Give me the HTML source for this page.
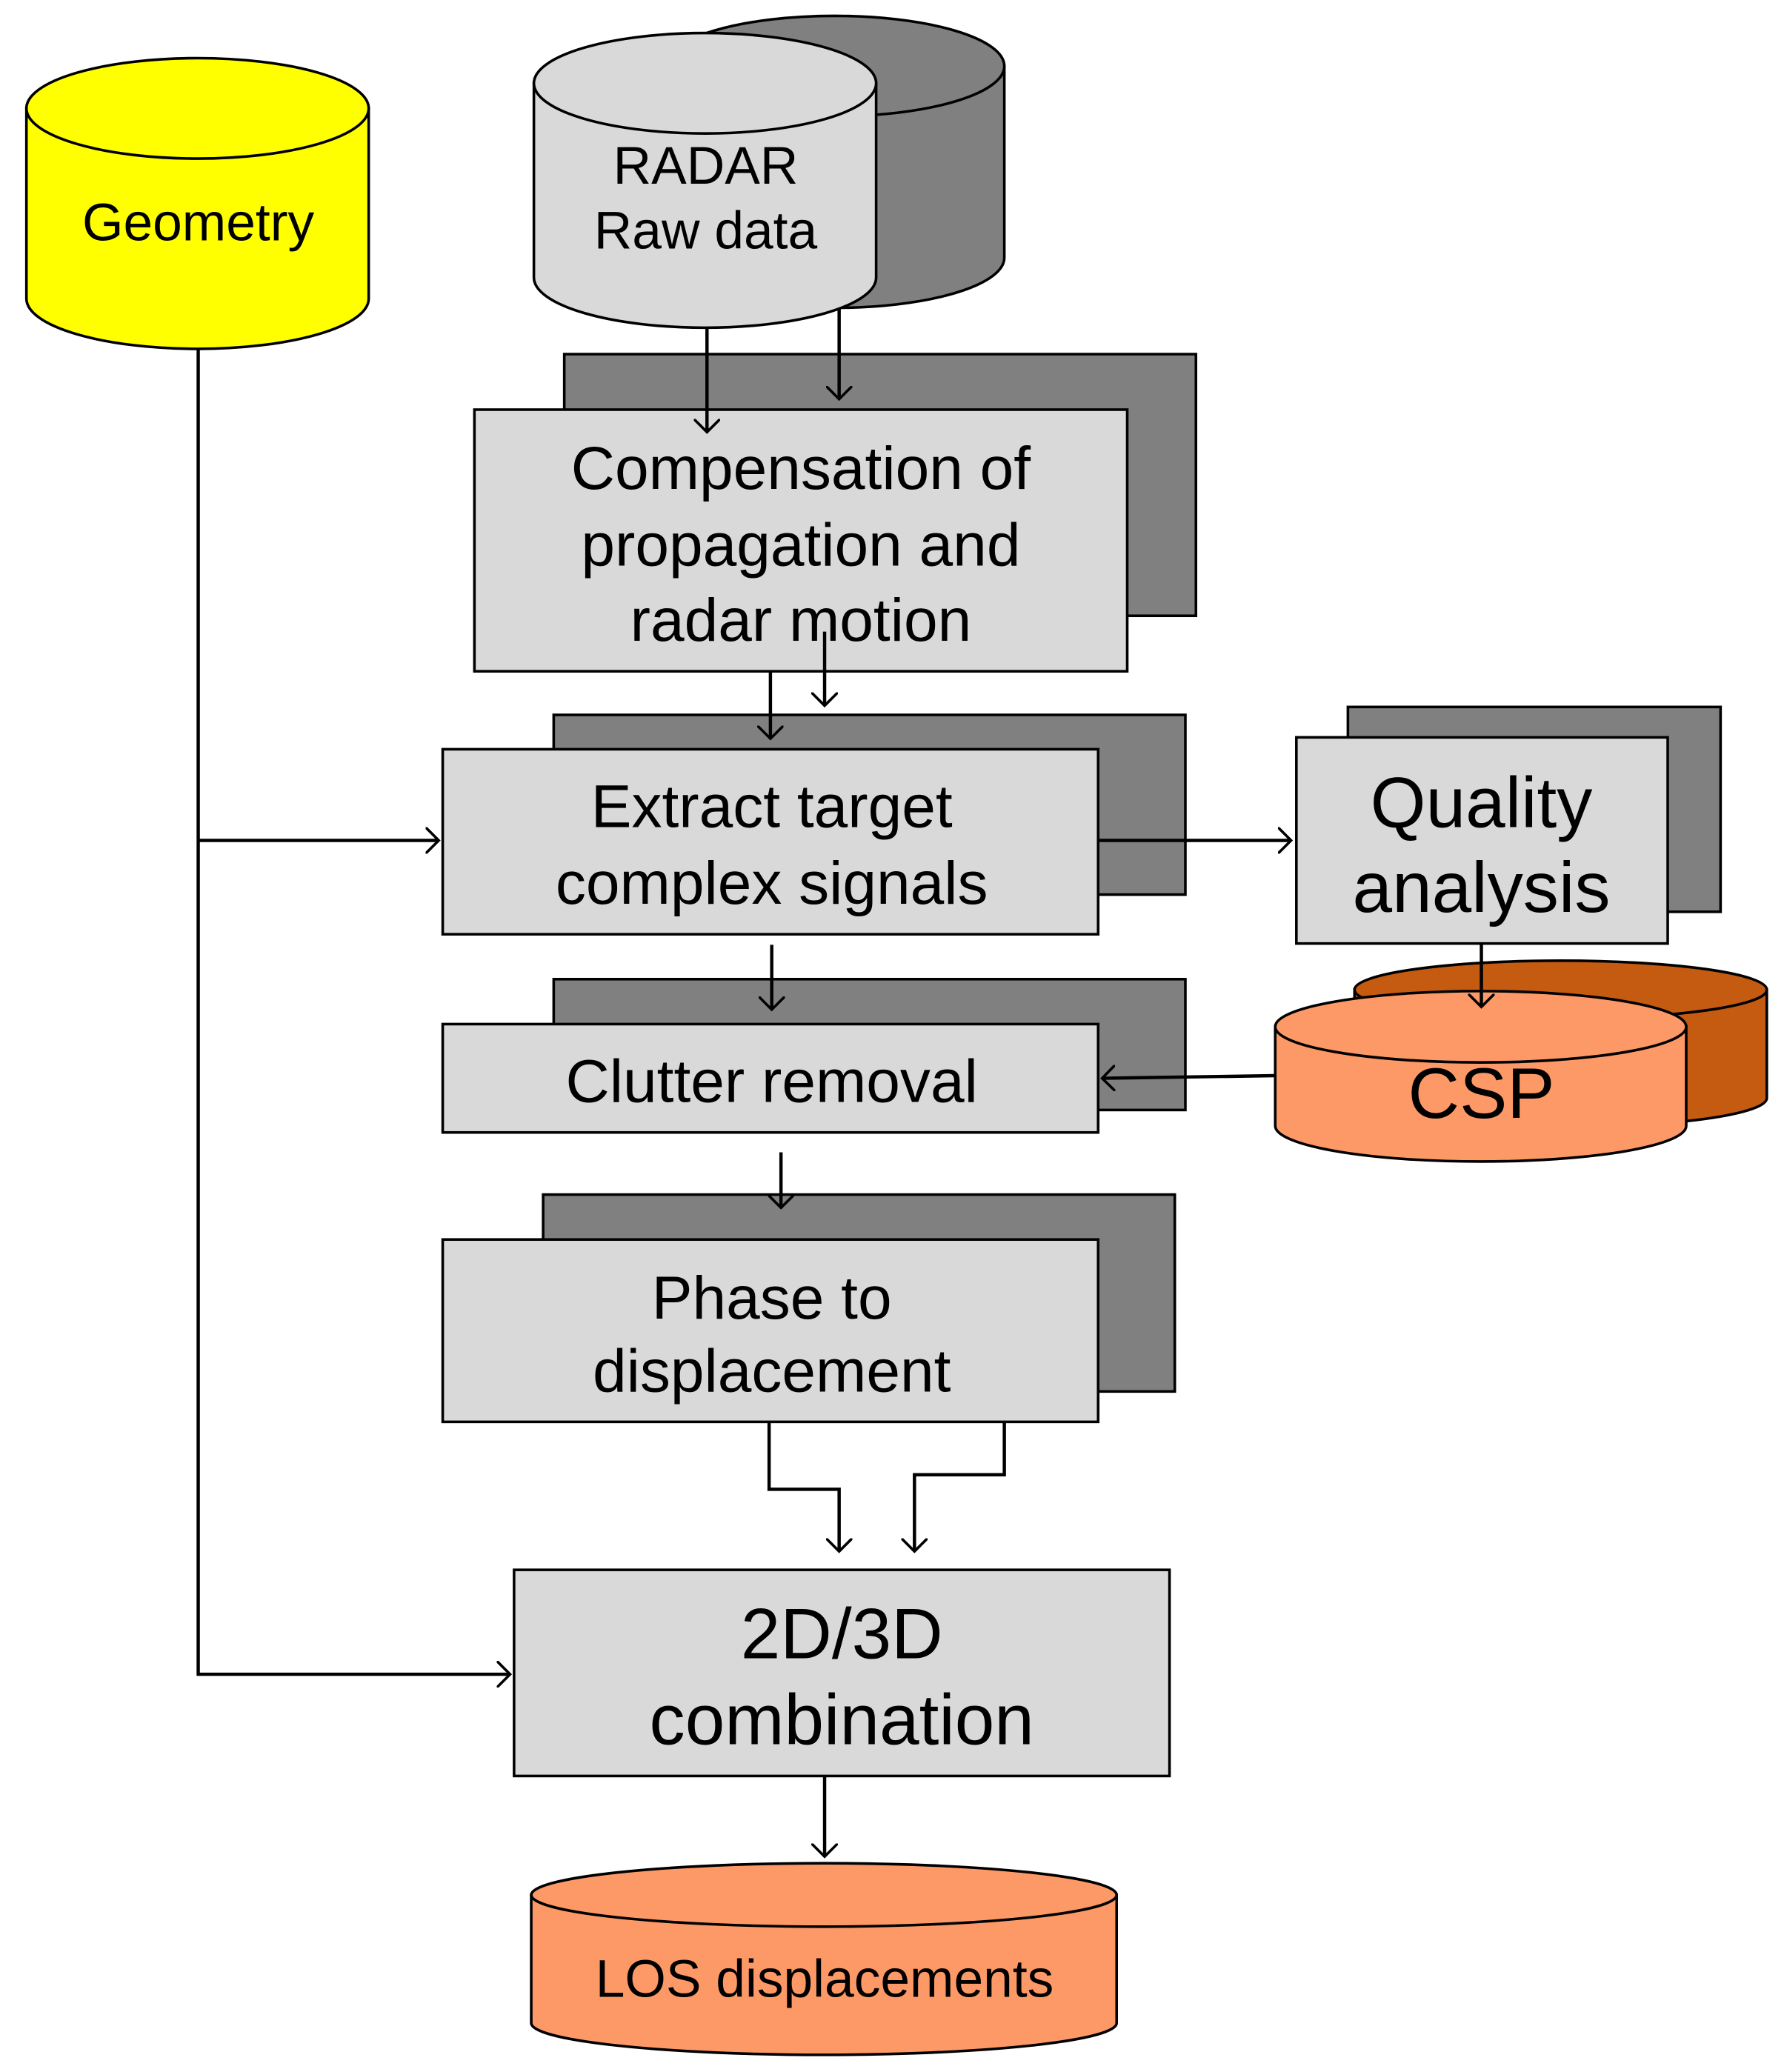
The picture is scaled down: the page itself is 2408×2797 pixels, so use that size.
<!DOCTYPE html>
<html><head><meta charset="utf-8"><style>
html,body{margin:0;padding:0;background:#fff;}
svg{display:block;}
text{font-family:"Liberation Sans",sans-serif;fill:#000;text-anchor:middle;}
</style></head><body>
<svg width="2408" height="2797" viewBox="0 0 1350 1568" preserveAspectRatio="none" xmlns="http://www.w3.org/2000/svg">
<defs>
<marker id="a" markerWidth="20" markerHeight="20" refX="10" refY="10" orient="auto" markerUnits="userSpaceOnUse">
<polyline points="0,0 10,10 0,20" fill="none" stroke="#000" stroke-width="2"/>
</marker>
</defs>
<g stroke="#000" stroke-width="2">
<!-- Geometry -->
<path d="M20,82 L20,226 A129.5,38 0 0 0 279,226 L279,82 Z" fill="#ffff00"/>
<ellipse cx="149.5" cy="82" rx="129.5" ry="38" fill="#ffff00"/>
<!-- RADAR -->
<path d="M503,50 L503,195 A128.5,38 0 0 0 760,195 L760,50 Z" fill="#808080"/>
<ellipse cx="631.5" cy="50" rx="128.5" ry="38" fill="#808080"/>
<path d="M404,63 L404,210 A129.5,38 0 0 0 663,210 L663,63 Z" fill="#d9d9d9"/>
<ellipse cx="533.5" cy="63" rx="129.5" ry="38" fill="#d9d9d9"/>
<!-- boxes -->
<rect x="427" y="268" width="478" height="198" fill="#808080"/>
<rect x="359" y="310" width="494" height="198" fill="#d9d9d9"/>
<rect x="419" y="541" width="478" height="136" fill="#808080"/>
<rect x="335" y="567" width="496" height="140" fill="#d9d9d9"/>
<rect x="1020" y="535" width="282" height="155" fill="#808080"/>
<rect x="981" y="558" width="281" height="156" fill="#d9d9d9"/>
<rect x="419" y="741" width="478" height="99" fill="#808080"/>
<rect x="335" y="775" width="496" height="82" fill="#d9d9d9"/>
<rect x="411" y="904" width="478" height="149" fill="#808080"/>
<rect x="335" y="938" width="496" height="138" fill="#d9d9d9"/>
<rect x="389" y="1188" width="496" height="156" fill="#d9d9d9"/>
<!-- CSP -->
<path d="M1025,749 L1025,831 A156,22 0 0 0 1337,831 L1337,749 Z" fill="#c55a11"/>
<ellipse cx="1181" cy="749" rx="156" ry="22" fill="#c55a11"/>
<path d="M965,777 L965,852 A155.5,27 0 0 0 1276,852 L1276,777 Z" fill="#fd9966"/>
<ellipse cx="1120.5" cy="777" rx="155.5" ry="27" fill="#fd9966"/>
<!-- LOS -->
<path d="M402,1434 L402,1531 A221.5,24 0 0 0 845,1531 L845,1434 Z" fill="#fd9966"/>
<ellipse cx="623.5" cy="1434" rx="221.5" ry="24" fill="#fd9966"/>
</g>
<g stroke="#000" stroke-width="2.5" fill="none">
<line x1="535" y1="248" x2="535" y2="327" marker-end="url(#a)"/>
<line x1="635" y1="233" x2="635" y2="302" marker-end="url(#a)"/>
<line x1="583" y1="508" x2="583" y2="559" marker-end="url(#a)"/>
<line x1="624" y1="478" x2="624" y2="534" marker-end="url(#a)"/>
<polyline points="150,264 150,1267 386,1267" marker-end="url(#a)"/>
<line x1="150" y1="636" x2="332" y2="636" marker-end="url(#a)"/>
<line x1="831" y1="636" x2="977" y2="636" marker-end="url(#a)"/>
<line x1="584" y1="715" x2="584" y2="764" marker-end="url(#a)"/>
<line x1="1121" y1="714" x2="1121" y2="762" marker-end="url(#a)"/>
<line x1="965" y1="814" x2="834" y2="816" marker-end="url(#a)"/>
<line x1="591" y1="872" x2="591" y2="914" marker-end="url(#a)"/>
<polyline points="582,1076 582,1127 635,1127 635,1174" marker-end="url(#a)"/>
<polyline points="760,1076 760,1116 692,1116 692,1174" marker-end="url(#a)"/>
<line x1="624" y1="1344" x2="624" y2="1405" marker-end="url(#a)"/>
</g>
<text x="150" y="182" font-size="40">Geometry</text>
<text x="534" y="139" font-size="40">RADAR</text>
<text x="534" y="188" font-size="40">Raw data</text>
<text x="606" y="370" font-size="46">Compensation of</text>
<text x="606" y="428" font-size="46">propagation and</text>
<text x="606" y="485" font-size="46">radar motion</text>
<text x="584" y="626" font-size="46">Extract target</text>
<text x="584" y="684" font-size="46">complex signals</text>
<text x="1121" y="626" font-size="54">Quality</text>
<text x="1121" y="690" font-size="54">analysis</text>
<text x="584" y="834" font-size="46">Clutter removal</text>
<text x="1121" y="846" font-size="54">CSP</text>
<text x="584" y="998" font-size="46">Phase to</text>
<text x="584" y="1053" font-size="46">displacement</text>
<text x="637" y="1255" font-size="54">2D/3D</text>
<text x="637" y="1320" font-size="54">combination</text>
<text x="624" y="1511" font-size="40">LOS displacements</text>
</svg>
</body></html>
